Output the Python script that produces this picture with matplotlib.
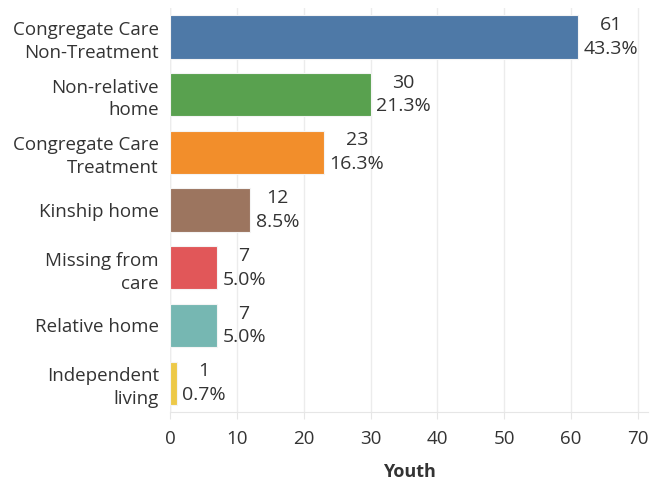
import matplotlib
matplotlib.use("Agg")
import matplotlib.pyplot as plt

categories = ["Congregate Care\nNon-Treatment", "Non-relative\nhome", "Congregate Care\nTreatment",
              "Kinship home", "Missing from\ncare", "Relative home", "Independent\nliving"]
counts = [61, 30, 23, 12, 7, 7, 1]
percents = ["43.3%", "21.3%", "16.3%", "8.5%", "5.0%", "5.0%", "0.7%"]
colors = ["#4e79a7", "#59a14f", "#f28e2b", "#9c755f", "#e15759", "#76b7b2", "#edc948"]
xticks = [0, 10, 20, 30, 40, 50, 60, 70]

plt.rcParams['font.family'] = ['Open Sans', 'DejaVu Sans']
text_color = "#333333"
fs = 13.5

fig = plt.figure(figsize=(6.5, 4.84), dpi=100)
ax = fig.add_axes([170/650, 1 - 412/484, (648-170)/650, (412-8)/484])

y = list(range(len(categories)))
ax.barh(y, counts, height=0.75, color=colors, edgecolor="#f4f4f4", linewidth=0.8, zorder=3)

for yi, c, p in zip(y, counts, percents):
    ax.annotate(f"{c}\n{p}", xy=(c, yi), xytext=(4, 0), textcoords="offset points",
                ha="left", va="center", multialignment="center", fontsize=14,
                color=text_color, linespacing=1.4)

ax.set_ylim(len(categories) - 0.5, -0.5)
ax.set_xlim(0, 71.5)
ax.set_yticks(y)
ax.set_yticklabels(categories, fontsize=fs, color=text_color, linespacing=1.35,
                   multialignment="right")
ax.set_xticks(xticks)
ax.set_xticklabels([str(t) for t in xticks], fontsize=fs, color=text_color)
ax.tick_params(axis="y", length=0, pad=8)
ax.tick_params(axis="x", length=5, color="#e6e6e6", pad=8)

ax.grid(axis="x", color="#ececec", linewidth=1, zorder=0)
for side in ["top", "right", "left"]:
    ax.spines[side].set_visible(False)
ax.spines["bottom"].set_color("#e6e6e6")
ax.axvline(0, color="#e6e6e6", linewidth=1, zorder=1)

ax.set_xlabel("Youth", fontsize=13, fontweight="bold", color=text_color, labelpad=11)

fig.savefig("out.png", dpi=100)
